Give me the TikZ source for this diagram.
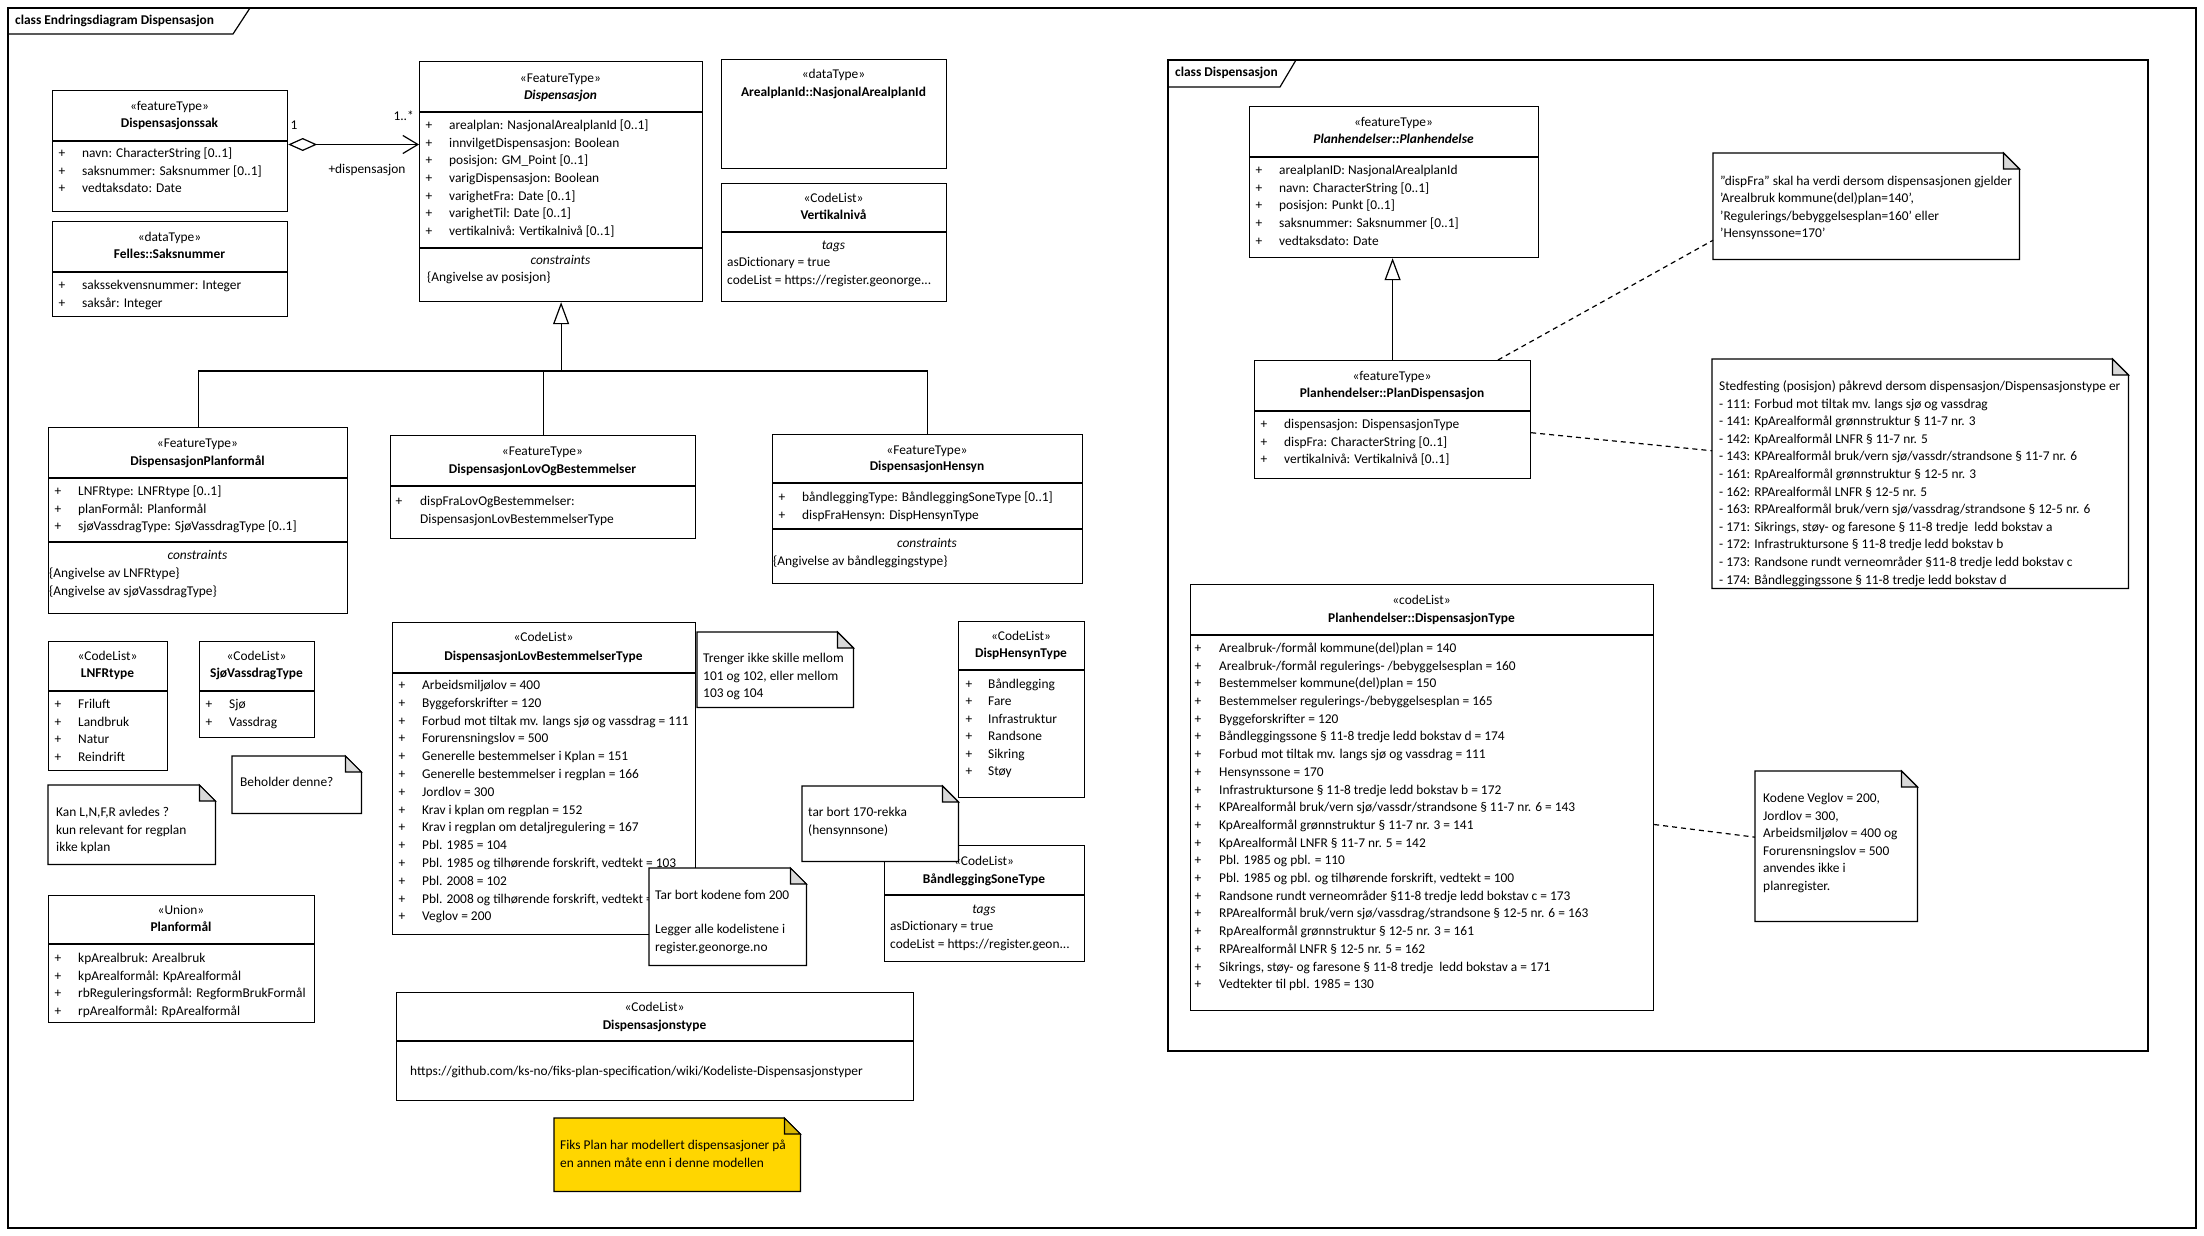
\documentclass[tikz,border=0pt]{standalone}
\usepackage{fontspec}
\setmainfont{Carlito}
\usetikzlibrary{arrows.meta,calc}

\definecolor{fiksgul}{RGB}{255,214,0}
\newcommand\umlfont{\fontsize{13.4}{17.7}\selectfont}

\tikzset{
  umlline/.style={line width=1.2pt},
  txt/.style={inner sep=0pt, text height=9.2pt, text depth=2.4pt, font=\umlfont},
  attr/.style={txt, anchor=west},
  plus/.style={txt},
  stereo/.style={txt},
  cname/.style={txt, font=\umlfont\bfseries},
  ctitle/.style={txt, font=\umlfont\itshape},
  classbox/.style={draw, fill=white, umlline, inner sep=0pt, anchor=north west},
  notebox/.style={inner sep=0pt, anchor=north west,
    append after command={\pgfextra{
      \draw[umlline, fill=#1] (\tikzlastnode.north west)
        -- ([xshift=-16pt]\tikzlastnode.north east)
        -- ([yshift=-16pt]\tikzlastnode.north east)
        -- (\tikzlastnode.south east) -- (\tikzlastnode.south west) -- cycle;
      \draw[umlline, fill=#1!85!black] ([xshift=-16pt]\tikzlastnode.north east)
        -- ([shift={(-16pt,-16pt)}]\tikzlastnode.north east)
        -- ([yshift=-16pt]\tikzlastnode.north east) -- cycle;
    }}},
  notebox/.default=white,
  notelink/.style={umlline, dash pattern=on 5pt off 4pt},
}

\begin{document}
\begin{tikzpicture}[x=1pt, y=-1pt]

  \fill[white] (0,0) rectangle (2204,1236);
  \useasboundingbox (0,0) rectangle (2204,1236);

  % Frame: class Endringsdiagram Dispensasjon
  \draw[umlline] (8,8) rectangle (2196,1228);
  \draw[umlline] (8,34) -- (233,34) -- (250,8);
  \node[attr, font=\umlfont\bfseries] (frame-outer) at (15,21) {class Endringsdiagram Dispensasjon};

  % Frame: class Dispensasjon
  \draw[umlline] (1168,60) rectangle (2148,1051);
  \draw[umlline] (1168,87) -- (1280,87) -- (1296,60);
  \node[attr, font=\umlfont\bfseries] (frame-inner) at (1175,73) {class Dispensasjon};

  % Dispensasjonssak
  \node[classbox, minimum width=235pt, minimum height=121pt] (sak) at (52,90) {};
  \draw[umlline] (52,141) -- (287,141);
  \node[stereo] (sak-st) at (169.5,107) {«featureType»};
  \node[cname] (sak-nm) at (169.5,124) {Dispensasjonssak};
  \foreach \aline [count=\i from 0] in {navn: CharacterString [0..1], saksnummer: Saksnummer [0..1], vedtaksdato: Date} {
    \node[plus] (sak-p\i) at (62,154+17.7*\i) {+};
    \node[attr] (sak-a\i) at (82,154+17.7*\i) {\aline};
  }

  % Felles::Saksnummer
  \node[classbox, minimum width=235pt, minimum height=95pt] (saksnr) at (52,221) {};
  \draw[umlline] (52,272) -- (287,272);
  \node[stereo] (saksnr-st) at (169.5,238) {«dataType»};
  \node[cname] (saksnr-nm) at (169.5,255) {Felles::Saksnummer};
  \foreach \aline [count=\i from 0] in {sakssekvensnummer: Integer, saksår: Integer} {
    \node[plus] (saksnr-p\i) at (62,286+17.7*\i) {+};
    \node[attr] (saksnr-a\i) at (82,286+17.7*\i) {\aline};
  }

  % Dispensasjon
  \node[classbox, minimum width=283pt, minimum height=240pt] (disp) at (419,61) {};
  \draw[umlline] (419,112) -- (702,112) (419,248) -- (702,248);
  \node[stereo] (disp-st) at (560.5,79) {«FeatureType»};
  \node[cname, font=\umlfont\bfseries\itshape] (disp-nm) at (560.5,96) {Dispensasjon};
  \foreach \aline [count=\i from 0] in {arealplan: NasjonalArealplanId [0..1], innvilgetDispensasjon: Boolean,
      posisjon: GM\_Point [0..1], varigDispensasjon: Boolean, varighetFra: Date [0..1],
      varighetTil: Date [0..1], vertikalnivå: Vertikalnivå [0..1]} {
    \node[plus] (disp-p\i) at (429,126+17.7*\i) {+};
    \node[attr] (disp-a\i) at (449,126+17.7*\i) {\aline};
  }
  \node[ctitle] (disp-cs) at (560.5,261) {constraints};
  \node[attr] (disp-c0) at (427,278) {\{Angivelse av posisjon\}};

  % Association Dispensasjonssak -> Dispensasjon
  \coordinate (sak-end) at ($(sak.north east)!0.446!(sak.south east)$);
  \draw[umlline, {Diamond[open, length=29pt, width=13pt]}-{Straight Barb[length=15pt, width=18pt]}]
    (sak-end) -- (sak-end -| disp.west);
  \node[txt] (assoc-m1) at (294,126) {1};
  \node[txt, anchor=east] (assoc-mn) at (414,117) {1..*};
  \node[txt] (assoc-role) at (367,170) {+dispensasjon};

  % ArealplanId::NasjonalArealplanId
  \node[classbox, minimum width=225pt, minimum height=109pt] (arealid) at (721,59) {};
  \node[stereo] (arealid-st) at (833.5,75) {«dataType»};
  \node[cname] (arealid-nm) at (833.5,93) {ArealplanId::NasjonalArealplanId};

  % Vertikalnivå
  \node[classbox, minimum width=225pt, minimum height=118pt] (vert) at (721,183) {};
  \draw[umlline] (721,232) -- (946,232);
  \node[stereo] (vert-st) at (833.5,199) {«CodeList»};
  \node[cname] (vert-nm) at (833.5,216) {Vertikalnivå};
  \node[ctitle] (vert-tg) at (833.5,246) {tags};
  \node[attr] (vert-t0) at (727,263.5) {asDictionary = true};
  \node[attr] (vert-t1) at (727,281) {codeList = https://register.geonorge...};

  % DispensasjonPlanformål
  \node[classbox, minimum width=299pt, minimum height=186pt] (planf) at (48,427) {};
  \draw[umlline] (48,478) -- (347,478) (48,542) -- (347,542);
  \node[stereo] (planf-st) at (197.5,444) {«FeatureType»};
  \node[cname] (planf-nm) at (197.5,462) {DispensasjonPlanformål};
  \foreach \aline [count=\i from 0] in {LNFRtype: LNFRtype [0..1], planFormål: Planformål, sjøVassdragType: SjøVassdragType [0..1]} {
    \node[plus] (planf-p\i) at (58,492+17.7*\i) {+};
    \node[attr] (planf-a\i) at (78,492+17.7*\i) {\aline};
  }
  \node[ctitle] (planf-cs) at (197.5,556) {constraints};
  \node[attr] (planf-c0) at (49,574) {\{Angivelse av LNFRtype\}};
  \node[attr] (planf-c1) at (49,591.7) {\{Angivelse av sjøVassdragType\}};

  % DispensasjonLovOgBestemmelser
  \node[classbox, minimum width=305pt, minimum height=103pt] (lovbest) at (390,435) {};
  \draw[umlline] (390,486) -- (695,486);
  \node[stereo] (lovbest-st) at (542.5,452) {«FeatureType»};
  \node[cname] (lovbest-nm) at (542.5,470) {DispensasjonLovOgBestemmelser};
  \node[plus] (lovbest-p0) at (399,502) {+};
  \node[attr] (lovbest-a0) at (420,502) {dispFraLovOgBestemmelser:};
  \node[attr] (lovbest-a1) at (420,519.7) {DispensasjonLovBestemmelserType};

  % DispensasjonHensyn
  \node[classbox, minimum width=310pt, minimum height=149pt] (hensyn) at (772,434) {};
  \draw[umlline] (772,483) -- (1082,483) (772,529) -- (1082,529);
  \node[stereo] (hensyn-st) at (927,451) {«FeatureType»};
  \node[cname] (hensyn-nm) at (927,467.5) {DispensasjonHensyn};
  \foreach \aline [count=\i from 0] in {båndleggingType: BåndleggingSoneType [0..1], dispFraHensyn: DispHensynType} {
    \node[plus] (hensyn-p\i) at (782,498+17.7*\i) {+};
    \node[attr] (hensyn-a\i) at (802,498+17.7*\i) {\aline};
  }
  \node[ctitle] (hensyn-cs) at (927,544) {constraints};
  \node[attr] (hensyn-c0) at (773,562) {\{Angivelse av båndleggingstype\}};

  % Generalisering til Dispensasjon
  \coordinate (genhub) at (disp.south |- 0,371);
  \draw[umlline, -{Triangle[open, length=22pt, width=16pt]}] (genhub) -- (disp.south);
  \draw[umlline] (planf.north) |- (hensyn.north |- genhub) -- (hensyn.north);
  \draw[umlline] (lovbest.north) -- (lovbest.north |- genhub);

  % LNFRtype
  \node[classbox, minimum width=119pt, minimum height=129pt] (lnfr) at (48,641) {};
  \draw[umlline] (48,691) -- (167,691);
  \node[stereo] (lnfr-st) at (107.5,657) {«CodeList»};
  \node[cname] (lnfr-nm) at (107.5,674) {LNFRtype};
  \foreach \aline [count=\i from 0] in {Friluft, Landbruk, Natur, Reindrift} {
    \node[plus] (lnfr-p\i) at (58,705+17.7*\i) {+};
    \node[attr] (lnfr-a\i) at (78,705+17.7*\i) {\aline};
  }

  % SjøVassdragType
  \node[classbox, minimum width=115pt, minimum height=96pt] (sjovass) at (199,641) {};
  \draw[umlline] (199,691) -- (314,691);
  \node[stereo] (sjovass-st) at (256.5,657) {«CodeList»};
  \node[cname] (sjovass-nm) at (256.5,674) {SjøVassdragType};
  \foreach \aline [count=\i from 0] in {Sjø, Vassdrag} {
    \node[plus] (sjovass-p\i) at (209,705+17.7*\i) {+};
    \node[attr] (sjovass-a\i) at (229,705+17.7*\i) {\aline};
  }

  % Notes by the code lists
  \node[notebox, minimum width=167pt, minimum height=79pt] (kan) at (48,785) {};
  \foreach \aline [count=\i from 0] in {{Kan L,N,F,R avledes ?}, kun relevant for regplan, ikke kplan}
    \node[attr] (kan-l\i) at (56,813+17.6*\i) {\aline};
  \node[notebox, minimum width=129pt, minimum height=57pt] (beholder) at (232,756) {};
  \node[attr] (beholder-l0) at (240,783) {Beholder denne?};

  % Planformål (union)
  \node[classbox, minimum width=266pt, minimum height=127pt] (planunion) at (48,895) {};
  \draw[umlline] (48,944) -- (314,944);
  \node[stereo] (planunion-st) at (181,911) {«Union»};
  \node[cname] (planunion-nm) at (181,928) {Planformål};
  \foreach \aline [count=\i from 0] in {kpArealbruk: Arealbruk, kpArealformål: KpArealformål,
      rbReguleringsformål: RegformBrukFormål, rpArealformål: RpArealformål} {
    \node[plus] (planunion-p\i) at (58,959+17.7*\i) {+};
    \node[attr] (planunion-a\i) at (78,959+17.7*\i) {\aline};
  }

  % DispensasjonLovBestemmelserType
  \node[classbox, minimum width=303pt, minimum height=312pt] (lovtype) at (392,622) {};
  \draw[umlline] (392,673) -- (695,673);
  \node[stereo] (lovtype-st) at (543.5,638) {«CodeList»};
  \node[cname] (lovtype-nm) at (543.5,657) {DispensasjonLovBestemmelserType};
  \foreach \aline [count=\i from 0] in {Arbeidsmiljølov = 400, Byggeforskrifter = 120,
      Forbud mot tiltak mv. langs sjø og vassdrag = 111, Forurensningslov = 500,
      Generelle bestemmelser i Kplan = 151, Generelle bestemmelser i regplan = 166,
      Jordlov = 300, Krav i kplan om regplan = 152, Krav i regplan om detaljregulering = 167,
      Pbl. 1985 = 104, {Pbl. 1985 og tilhørende forskrift, vedtekt = 103}, Pbl. 2008 = 102,
      {Pbl. 2008 og tilhørende forskrift, vedtekt = 101}, Veglov = 200} {
    \node[plus] (lovtype-p\i) at (402,686+17.8*\i) {+};
    \node[attr] (lovtype-a\i) at (422,686+17.8*\i) {\aline};
  }

  % Notes by DispensasjonLovBestemmelserType
  \node[notebox, minimum width=156pt, minimum height=75pt] (trenger) at (697,632) {};
  \foreach \aline [count=\i from 0] in {Trenger ikke skille mellom, {101 og 102, eller mellom}, 103 og 104}
    \node[attr] (trenger-l\i) at (703,659+17.6*\i) {\aline};
  \node[notebox, minimum width=157pt, minimum height=97pt] (tarbort) at (649,868) {};
  \node[attr] (tarbort-l0) at (655,896) {Tar bort kodene fom 200};
  \node[attr] (tarbort-l1) at (655,930) {Legger alle kodelistene i};
  \node[attr] (tarbort-l2) at (655,947.6) {register.geonorge.no};

  % DispHensynType
  \node[classbox, minimum width=126pt, minimum height=176pt] (hensyntype) at (958,621) {};
  \draw[umlline] (958,670) -- (1084,670);
  \node[stereo] (hensyntype-st) at (1021,637) {«CodeList»};
  \node[cname] (hensyntype-nm) at (1021,654) {DispHensynType};
  \foreach \aline [count=\i from 0] in {Båndlegging, Fare, Infrastruktur, Randsone, Sikring, Støy} {
    \node[plus] (hensyntype-p\i) at (969,685+17.5*\i) {+};
    \node[attr] (hensyntype-a\i) at (988,685+17.5*\i) {\aline};
  }

  % BåndleggingSoneType
  \node[classbox, minimum width=200pt, minimum height=116pt] (bandtype) at (884,845) {};
  \draw[umlline] (884,895) -- (1084,895);
  \node[stereo] (bandtype-st) at (984,862) {«CodeList»};
  \node[cname] (bandtype-nm) at (984,880) {BåndleggingSoneType};
  \node[ctitle] (bandtype-tg) at (984,910) {tags};
  \node[attr] (bandtype-t0) at (890,927) {asDictionary = true};
  \node[attr] (bandtype-t1) at (890,945) {codeList = https://register.geon...};

  % Note: tar bort 170-rekka
  \node[notebox, minimum width=156pt, minimum height=75pt] (rekka) at (802,786) {};
  \node[attr] (rekka-l0) at (808,813) {tar bort 170-rekka};
  \node[attr] (rekka-l1) at (808,830.6) {(hensynnsone)};

  % Dispensasjonstype
  \node[classbox, minimum width=517pt, minimum height=108pt] (disptype) at (396,992) {};
  \draw[umlline] (396,1041) -- (913,1041);
  \node[stereo] (disptype-st) at (654.5,1008) {«CodeList»};
  \node[cname] (disptype-nm) at (654.5,1026) {Dispensasjonstype};
  \node[attr] (disptype-url) at (410,1072) {https://github.com/ks-no/fiks-plan-specification/wiki/Kodeliste-Dispensasjonstyper};

  % Note: Fiks Plan
  \node[notebox=fiksgul, minimum width=246pt, minimum height=73pt] (fiks) at (554,1118) {};
  \node[attr] (fiks-l0) at (560,1146) {Fiks Plan har modellert dispensasjoner på};
  \node[attr] (fiks-l1) at (560,1163.6) {en annen måte enn i denne modellen};

  % Planhendelser::Planhendelse
  \node[classbox, minimum width=289pt, minimum height=151pt] (planh) at (1249,106) {};
  \draw[umlline] (1249,157) -- (1538,157);
  \node[stereo] (planh-st) at (1393.5,123) {«featureType»};
  \node[cname, font=\umlfont\bfseries\itshape] (planh-nm) at (1393.5,140) {Planhendelser::Planhendelse};
  \foreach \aline [count=\i from 0] in {arealplanID: NasjonalArealplanId, navn: CharacterString [0..1],
      posisjon: Punkt [0..1], saksnummer: Saksnummer [0..1], vedtaksdato: Date} {
    \node[plus] (planh-p\i) at (1259,171+17.7*\i) {+};
    \node[attr] (planh-a\i) at (1279,171+17.7*\i) {\aline};
  }

  % Planhendelser::PlanDispensasjon
  \node[classbox, minimum width=276pt, minimum height=118pt] (plandisp) at (1254,360) {};
  \draw[umlline] (1254,411) -- (1530,411);
  \node[stereo] (plandisp-st) at (1392,377) {«featureType»};
  \node[cname] (plandisp-nm) at (1392,394) {Planhendelser::PlanDispensasjon};
  \foreach \aline [count=\i from 0] in {dispensasjon: DispensasjonType, dispFra: CharacterString [0..1],
      vertikalnivå: Vertikalnivå [0..1]} {
    \node[plus] (plandisp-p\i) at (1264,425+17.7*\i) {+};
    \node[attr] (plandisp-a\i) at (1284,425+17.7*\i) {\aline};
  }
  \draw[umlline, -{Triangle[open, length=22pt, width=16pt]}] (plandisp.north) -- (plandisp.north |- planh.south);

  % Planhendelser::DispensasjonType
  \node[classbox, minimum width=463pt, minimum height=426pt] (dtype) at (1190,584) {};
  \draw[umlline] (1190,635) -- (1653,635);
  \node[stereo] (dtype-st) at (1421.5,601) {«codeList»};
  \node[cname] (dtype-nm) at (1421.5,619) {Planhendelser::DispensasjonType};
  \foreach \aline [count=\i from 0] in {Arealbruk-/formål kommune(del)plan = 140,
      Arealbruk-/formål regulerings- /bebyggelsesplan = 160, Bestemmelser kommune(del)plan = 150,
      Bestemmelser regulerings-/bebyggelsesplan = 165, Byggeforskrifter = 120,
      Båndleggingssone § 11-8 tredje ledd bokstav d = 174, Forbud mot tiltak mv. langs sjø og vassdrag = 111,
      Hensynssone = 170, Infrastruktursone § 11-8 tredje ledd bokstav b = 172,
      KPArealformål bruk/vern sjø/vassdr/strandsone § 11-7 nr. 6 = 143,
      KpArealformål grønnstruktur § 11-7 nr. 3 = 141, KpArealformål LNFR § 11-7 nr. 5 = 142,
      Pbl. 1985 og pbl. = 110, {Pbl. 1985 og pbl. og tilhørende forskrift, vedtekt = 100},
      Randsone rundt verneområder §11-8 tredje ledd bokstav c = 173,
      RPArealformål bruk/vern sjø/vassdrag/strandsone § 12-5 nr. 6 = 163,
      RpArealformål grønnstruktur § 12-5 nr. 3 = 161, RPArealformål LNFR § 12-5 nr. 5 = 162,
      {Sikrings, støy- og faresone § 11-8 tredje \ ledd bokstav a = 171}, Vedtekter til pbl. 1985 = 130} {
    \node[plus] (dtype-p\i) at (1198,649+17.7*\i) {+};
    \node[attr] (dtype-a\i) at (1219,649+17.7*\i) {\aline};
  }

  % Note: dispFra
  \node[notebox, minimum width=306pt, minimum height=106pt] (notedisp) at (1713,153) {};
  \foreach \aline [count=\i from 0] in {”dispFra” skal ha verdi dersom dispensasjonen gjelder,
      {’Arealbruk kommune(del)plan=140’,}, ’Regulerings/bebyggelsesplan=160’ eller, ’Hensynssone=170’}
    \node[attr] (notedisp-l\i) at (1720,182+17.3*\i) {\aline};

  % Note: Stedfesting
  \node[notebox, minimum width=416pt, minimum height=229pt] (notested) at (1712,359) {};
  \foreach \aline [count=\i from 0] in {Stedfesting (posisjon) påkrevd dersom dispensasjon/Dispensasjonstype er,
      - 111: Forbud mot tiltak mv. langs sjø og vassdrag, - 141: KpArealformål grønnstruktur § 11-7 nr. 3,
      - 142: KpArealformål LNFR § 11-7 nr. 5, - 143: KPArealformål bruk/vern sjø/vassdr/strandsone § 11-7 nr. 6,
      - 161: RpArealformål grønnstruktur § 12-5 nr. 3, - 162: RPArealformål LNFR § 12-5 nr. 5,
      - 163: RPArealformål bruk/vern sjø/vassdrag/strandsone § 12-5 nr. 6,
      {- 171: Sikrings, støy- og faresone § 11-8 tredje \ ledd bokstav a},
      - 172: Infrastruktursone § 11-8 tredje ledd bokstav b,
      - 173: Randsone rundt verneområder §11-8 tredje ledd bokstav c,
      - 174: Båndleggingssone § 11-8 tredje ledd bokstav d}
    \node[attr] (notested-l\i) at (1719,387+17.6*\i) {\aline};

  % Note: Kodene
  \node[notebox, minimum width=162pt, minimum height=150pt] (notekode) at (1755,771) {};
  \foreach \aline [count=\i from 0] in {{Kodene Veglov = 200,}, {Jordlov = 300,}, Arbeidsmiljølov = 400 og,
      Forurensningslov = 500, anvendes ikke i, planregister.}
    \node[attr] (notekode-l\i) at (1763,799+17.6*\i) {\aline};

  % Note links
  \draw[notelink] ($(plandisp.north west)!0.88!(plandisp.north east)$) -- ($(notedisp.north west)!0.82!(notedisp.south west)$);
  \draw[notelink] ($(plandisp.north east)!0.61!(plandisp.south east)$) -- ($(notested.north west)!0.40!(notested.south west)$);
  \draw[notelink] ($(dtype.north east)!0.563!(dtype.south east)$) -- ($(notekode.north west)!0.44!(notekode.south west)$);

\end{tikzpicture}
\end{document}
